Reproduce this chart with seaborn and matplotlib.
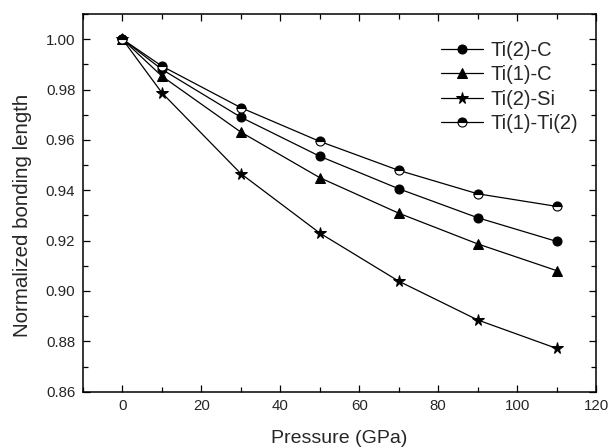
import numpy as np
import pandas as pd
import matplotlib
matplotlib.use("Agg")
import matplotlib.pyplot as plt
import seaborn as sns
from matplotlib.ticker import MultipleLocator

# Data
pressure = [0, 10, 30, 50, 70, 90, 110]
ti2_c = [1.000, 0.988, 0.969, 0.9535, 0.9406, 0.9291, 0.9197]
ti1_c = [1.000, 0.9853, 0.9631, 0.945, 0.9309, 0.9187, 0.9081]
ti2_si = [1.000, 0.9787, 0.9466, 0.923, 0.9039, 0.8885, 0.8772]
ti1_ti2 = [1.000, 0.9893, 0.9728, 0.9594, 0.9479, 0.9386, 0.9336]

labels = ["Ti(2)-C", "Ti(1)-C", "Ti(2)-Si", "Ti(1)-Ti(2)"]
series = [ti2_c, ti1_c, ti2_si, ti1_ti2]

sns.set_style("ticks")
plt.rcParams["font.family"] = ["Liberation Sans", "DejaVu Sans"]

fig = plt.figure(figsize=(6.11, 4.47), dpi=100)
ax = fig.add_axes([0.1358, 0.1237, 0.8397, 0.845])

styles = [
    dict(marker="o", markersize=6.5),
    dict(marker="^", markersize=7.5),
    dict(marker="*", markersize=8.5),
    dict(marker="o", markersize=6.5, fillstyle="top",
         markerfacecoloralt="white", markeredgewidth=0.8),
]

for lab, vals, st in zip(labels, series, styles):
    df = pd.DataFrame({"Pressure": pressure, "Length": vals})
    sns.lineplot(data=df, x="Pressure", y="Length", ax=ax, color="black",
                 linewidth=0.9, label=lab, markeredgecolor="black", **st)

ax.set_xlim(-10, 120)
ax.set_ylim(0.86, 1.01)
ax.xaxis.set_major_locator(MultipleLocator(20))
ax.xaxis.set_minor_locator(MultipleLocator(10))
ax.yaxis.set_major_locator(MultipleLocator(0.02))
ax.yaxis.set_minor_locator(MultipleLocator(0.01))
ax.yaxis.set_major_formatter(matplotlib.ticker.FormatStrFormatter("%.2f"))
ax.tick_params(which="both", direction="in", top=True, right=True,
               labelsize=10.8, width=0.9, color="black", pad=5.5)
ax.tick_params(which="major", length=5)
ax.tick_params(which="minor", length=3.5)
for s in ax.spines.values():
    s.set_linewidth(1.1)
    s.set_color("black")

ax.set_xlabel("Pressure (GPa)", fontsize=14, labelpad=12)
ax.set_ylabel("Normalized bonding length", fontsize=14.8)
ax.yaxis.set_label_coords(-0.099, 0.468)

ax.legend(loc="upper right", bbox_to_anchor=(1.0, 0.976), frameon=False,
          fontsize=14.5, handlelength=2.1, labelspacing=0.26,
          borderaxespad=0.5, handletextpad=0.35)

fig.savefig("out.png", dpi=100)
